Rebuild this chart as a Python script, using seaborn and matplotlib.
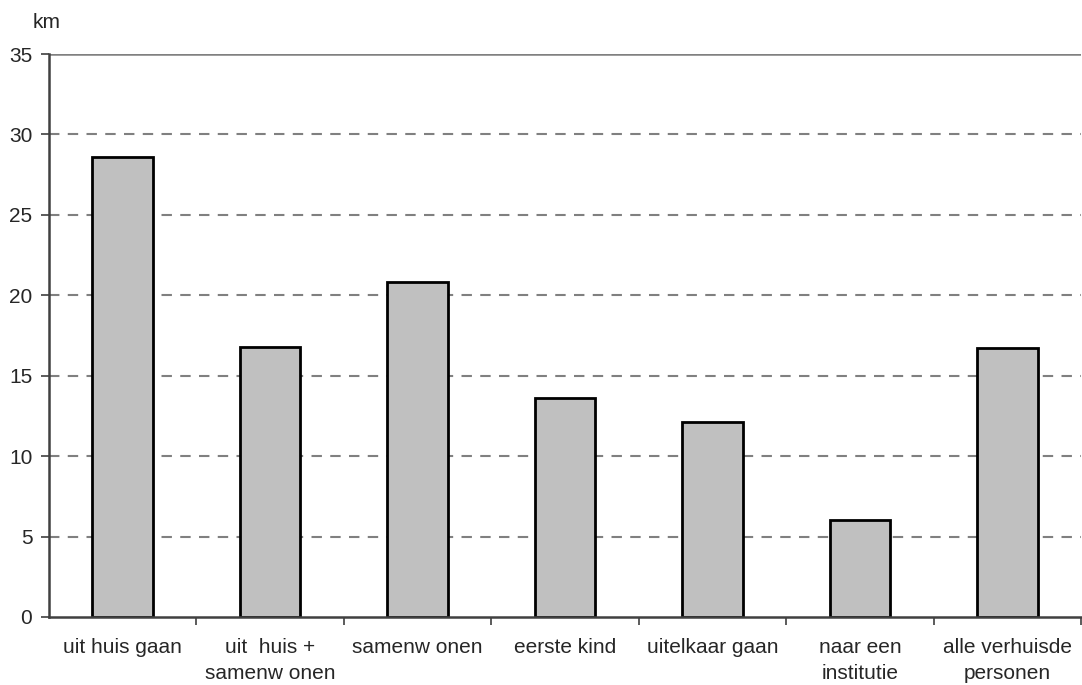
import matplotlib
matplotlib.use("Agg")
import matplotlib.pyplot as plt
import seaborn as sns
import pandas as pd
import numpy as np

categories = ["uit huis gaan", "uit  huis +\nsamenw onen", "samenw onen", "eerste kind",
              "uitelkaar gaan", "naar een\ninstitutie", "alle verhuisde\npersonen"]
values = [28.6, 16.8, 20.8, 13.6, 12.1, 6.0, 16.7]
yticks = [0, 5, 10, 15, 20, 25, 30, 35]
unit_label = "km"

sns.set_theme(style="white")
plt.rcParams['font.family'] = ['Liberation Sans', 'DejaVu Sans']

df = pd.DataFrame({"cat": categories, "val": values})

fig = plt.figure(figsize=(10.82, 6.85), dpi=100)
ax = fig.add_axes([49/1082, 1-617/685, 1032/1082, (617-54)/685])

sns.barplot(data=df, x="cat", y="val", ax=ax, color="#c0c0c0", width=0.41,
            edgecolor="black", linewidth=2.0, saturation=1)

ax.set_ylim(0, 35)
ax.set_xlim(-0.5, len(categories) - 0.5)
ax.set_yticks(yticks)
ax.set_yticklabels([str(t) for t in yticks], fontsize=15)
for t in yticks[1:-1]:
    ax.axhline(t, color="#808080", linestyle=(0, (5, 4)), linewidth=1.5, zorder=0)
ax.axhline(35, color="#808080", linewidth=1.8, zorder=0)

ax.set_xticks(np.arange(len(categories)))
ax.set_xticklabels(categories, fontsize=15, linespacing=1.5)
ax.tick_params(axis="x", length=0, pad=15)
ax.set_xticks(np.arange(len(categories)) + 0.5, minor=True)
ax.tick_params(axis="x", which="minor", length=6, color="#404040", width=1.2, direction="out", bottom=True)
ax.tick_params(axis="y", length=6, color="#404040", width=1.2, direction="out", left=True, pad=6)

ax.set_xlabel("")
ax.set_ylabel("")
for s in ["top", "right"]:
    ax.spines[s].set_visible(False)
for s in ["left", "bottom"]:
    ax.spines[s].set_color("#404040")
    ax.spines[s].set_linewidth(1.8)

fig.text(33/1082, 1-22/685, unit_label, fontsize=15, va="center", ha="left")

fig.savefig("out.png", dpi=100)
